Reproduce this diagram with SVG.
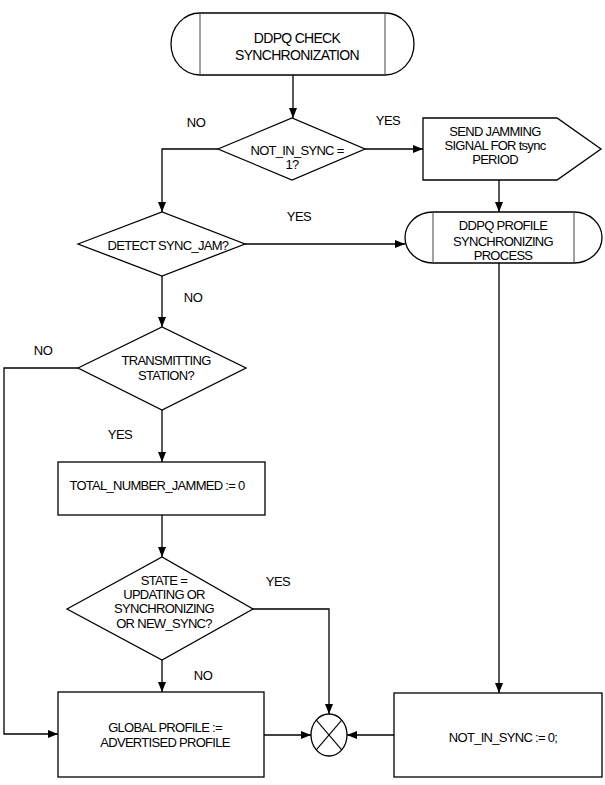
<svg xmlns="http://www.w3.org/2000/svg" width="605" height="785" viewBox="0 0 605 785">
<defs>
<marker id="ah" markerWidth="11" markerHeight="9" refX="10" refY="4" orient="auto" markerUnits="userSpaceOnUse">
<path d="M0,0 L10,4 L0,8 z" fill="#000"/>
</marker>
<style>
.s{fill:#fff;stroke:#000;stroke-width:1.3}
.t{font-family:"Liberation Sans",Arial,sans-serif;font-size:13px;letter-spacing:-0.7px;fill:#000;text-anchor:middle}
.big{font-size:14px}
.l{font-family:"Liberation Sans",Arial,sans-serif;font-size:13px;letter-spacing:-0.5px;fill:#000;text-anchor:middle}
.c{fill:none;stroke:#000;stroke-width:1.3;marker-end:url(#ah)}
.thin{stroke:#444;stroke-width:1}
</style>
</defs>
<rect width="605" height="785" fill="#fff"/>

<g id="start">
<path class="s" d="M200,13 L385,13 A29 31 0 0 1 385,75 L200,75 A29 31 0 0 1 200,13 Z"/>
<line class="thin" x1="200" y1="13" x2="200" y2="75"/>
<line class="thin" x1="385" y1="13" x2="385" y2="75"/>
<text class="t big" x="297" y="43">DDPQ CHECK</text>
<text class="t big" x="297" y="60">SYNCHRONIZATION</text>
</g>

<g id="not-in-sync">
<polygon class="s" points="218,149 292,118 365,149 292,180"/>
<text class="t" x="297" y="155">NOT_IN_SYNC =</text>
<text class="t" x="292" y="169">1?</text>
</g>

<g id="send-jamming">
<polygon class="s" points="423,118 557,118 601,149 557,180 423,180"/>
<text class="t" x="495" y="136">SEND JAMMING</text>
<text class="t" x="495" y="150">SIGNAL FOR tsync</text>
<text class="t" x="495" y="164">PERIOD</text>
</g>

<g id="detect-sync-jam">
<polygon class="s" points="78,244 162,212 245,244 162,276"/>
<text class="t" x="168" y="250">DETECT SYNC_JAM?</text>
</g>

<g id="profile-sync">
<path class="s" d="M433,212 L574,212 A28 25.5 0 0 1 574,263 L433,263 A28 25.5 0 0 1 433,212 Z"/>
<line class="thin" x1="433" y1="212" x2="433" y2="263"/>
<line class="thin" x1="574" y1="212" x2="574" y2="263"/>
<text class="t" x="503" y="230">DDPQ PROFILE</text>
<text class="t" x="503" y="246">SYNCHRONIZING</text>
<text class="t" x="503" y="260">PROCESS</text>
</g>

<g id="transmitting">
<polygon class="s" points="78,368 162,327 246,368 162,410"/>
<text class="t" x="166" y="365">TRANSMITTING</text>
<text class="t" x="166" y="380">STATION?</text>
</g>

<g id="total-jammed">
<rect class="s" x="58" y="462" width="207" height="53"/>
<text class="t" x="157" y="490">TOTAL_NUMBER_JAMMED := 0</text>
</g>

<g id="state">
<polygon class="s" points="67,609 162,557 253,609 162,660"/>
<text class="t" x="164" y="585">STATE =</text>
<text class="t" x="164" y="599">UPDATING OR</text>
<text class="t" x="164" y="613">SYNCHRONIZING</text>
<text class="t" x="164" y="628">OR NEW_SYNC?</text>
</g>

<g id="global-profile">
<rect class="s" x="58" y="692" width="206" height="85"/>
<text class="t" x="165" y="732">GLOBAL PROFILE :=</text>
<text class="t" x="165" y="747">ADVERTISED PROFILE</text>
</g>

<g id="join">
<ellipse class="s" cx="329" cy="735" rx="18" ry="21"/>
<line x1="316.3" y1="720.2" x2="341.7" y2="749.8" stroke="#000" stroke-width="1.1"/>
<line x1="341.7" y1="720.2" x2="316.3" y2="749.8" stroke="#000" stroke-width="1.1"/>
</g>

<g id="not-in-sync-reset">
<rect class="s" x="394" y="693" width="208" height="84"/>
<text class="t" x="503" y="742">NOT_IN_SYNC := 0;</text>
</g>

<g id="connectors">
<path class="c" d="M293,75 L293,118"/>
<path class="c" d="M365,149 L423,149"/>
<path class="c" d="M218,149 L162,149 L162,212"/>
<path class="c" d="M499,180 L499,212"/>
<path class="c" d="M245,244 L405,244"/>
<path class="c" d="M162,276 L162,327"/>
<path class="c" d="M162,410 L162,462"/>
<path class="c" d="M78,368 L4,368 L4,734 L58,734"/>
<path class="c" d="M162,515 L162,557"/>
<path class="c" d="M162,660 L162,692"/>
<path class="c" d="M253,609 L329,609 L329,714"/>
<path class="c" d="M264,735 L311,735"/>
<path class="c" d="M394,735 L347,735"/>
<path class="c" d="M499,263 L499,693"/>
</g>

<g id="labels">
<text class="l" x="196" y="127">NO</text>
<text class="l" x="388" y="125">YES</text>
<text class="l" x="299" y="221">YES</text>
<text class="l" x="193" y="302">NO</text>
<text class="l" x="43" y="355">NO</text>
<text class="l" x="120" y="439">YES</text>
<text class="l" x="278" y="586">YES</text>
<text class="l" x="203" y="680">NO</text>
</g>
</svg>
